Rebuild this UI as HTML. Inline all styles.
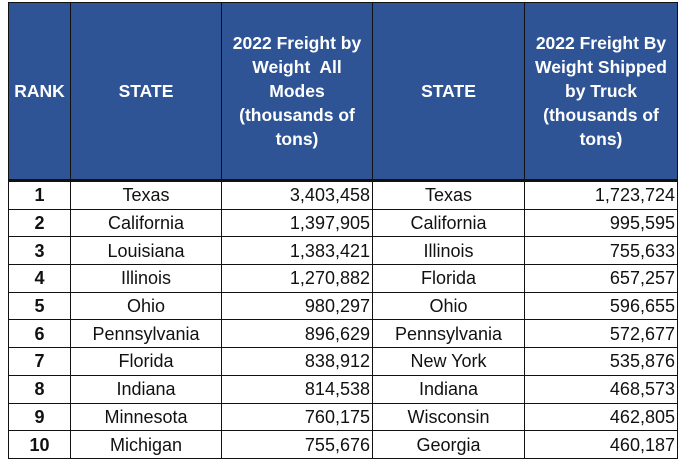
<!DOCTYPE html>
<html><head><style>
body{margin:0;background:#fff;width:684px;height:463px;overflow:hidden}
table{position:absolute;left:8px;top:2px;border-collapse:collapse;font-family:"Liberation Sans",Calibri,sans-serif;font-size:18px;color:#111}
td{border:1.5px solid #111;height:26.7px;padding:0 6px;line-height:20px}
td.r{padding-right:2px}
th{background:#2F5496;color:#fff;border:1.5px solid #111;font-weight:bold;font-size:17.5px;line-height:24px;height:176px;padding:0 4px;border-bottom:3px solid #111}
.c{text-align:center}.r{text-align:right}.b{font-weight:bold;text-align:center}
</style></head><body>
<table>
<colgroup><col style="width:62px"><col style="width:151px"><col style="width:151px"><col style="width:152px"><col style="width:153px"></colgroup>
<tr><th>RANK</th><th>STATE</th><th>2022 Freight by Weight&nbsp; All Modes (thousands of tons)</th><th>STATE</th><th>2022 Freight By Weight Shipped by Truck (thousands of tons)</th></tr>
<tr><td class="b">1</td><td class="c">Texas</td><td class="r">3,403,458</td><td class="c">Texas</td><td class="r">1,723,724</td></tr>
<tr><td class="b">2</td><td class="c">California</td><td class="r">1,397,905</td><td class="c">California</td><td class="r">995,595</td></tr>
<tr><td class="b">3</td><td class="c">Louisiana</td><td class="r">1,383,421</td><td class="c">Illinois</td><td class="r">755,633</td></tr>
<tr><td class="b">4</td><td class="c">Illinois</td><td class="r">1,270,882</td><td class="c">Florida</td><td class="r">657,257</td></tr>
<tr><td class="b">5</td><td class="c">Ohio</td><td class="r">980,297</td><td class="c">Ohio</td><td class="r">596,655</td></tr>
<tr><td class="b">6</td><td class="c">Pennsylvania</td><td class="r">896,629</td><td class="c">Pennsylvania</td><td class="r">572,677</td></tr>
<tr><td class="b">7</td><td class="c">Florida</td><td class="r">838,912</td><td class="c">New York</td><td class="r">535,876</td></tr>
<tr><td class="b">8</td><td class="c">Indiana</td><td class="r">814,538</td><td class="c">Indiana</td><td class="r">468,573</td></tr>
<tr><td class="b">9</td><td class="c">Minnesota</td><td class="r">760,175</td><td class="c">Wisconsin</td><td class="r">462,805</td></tr>
<tr><td class="b">10</td><td class="c">Michigan</td><td class="r">755,676</td><td class="c">Georgia</td><td class="r">460,187</td></tr>
</table>
</body></html>
